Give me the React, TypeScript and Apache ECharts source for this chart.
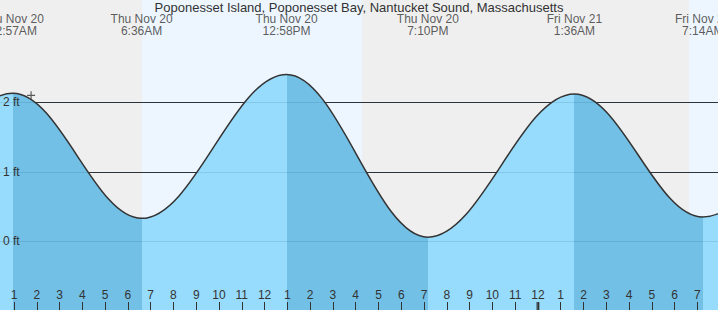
import React, { useEffect, useRef } from "react";
import * as echarts from "echarts";

// Tide extremes (hours since midnight, Thu Nov 20) and heights in feet
const tideHours = [-5.3, 0.95, 6.6, 12.967, 19.167, 25.6, 31.233, 37.6];
const tideFeet = [0.1, 2.13, 0.33, 2.4, 0.06, 2.12, 0.35, 2.35];

// Labelled extremes at the top
const extremeHours = [0.95, 6.6, 12.967, 19.167, 25.6, 31.233];
const extremeDays = ["Thu Nov 20", "Thu Nov 20", "Thu Nov 20", "Thu Nov 20", "Fri Nov 21", "Fri Nov 21"];
const extremeTimes = ["12:57AM", "6:36AM", "12:58PM", "7:10PM", "1:36AM", "7:14AM"];

// Hour ticks along the bottom (hours since midnight) and their labels
const tickHours = [1, 2, 3, 4, 5, 6, 7, 8, 9, 10, 11, 12, 13, 14, 15, 16, 17, 18, 19, 20, 21, 22, 23, 24, 25, 26, 27, 28, 29, 30, 31];
const tickLabels = ["1", "2", "3", "4", "5", "6", "7", "8", "9", "10", "11", "12", "1", "2", "3", "4", "5", "6", "7", "8", "9", "10", "11", "12", "1", "2", "3", "4", "5", "6", "7"];

// Daylight bands (hours)
const dayStarts = [6.62, 30.63];
const dayEnds = [16.28, 36];

const gridFeet = [0, 1, 2];
const nowPoint = [1.75, 2.1];
const midnightHour = 24;
const titleText = "Poponesset Island, Poponesset Bay, Nantucket Sound, Massachusetts";

const LIGHT = "#98dcfd";
const DARK = "#72c0e6";
const INK = "#333333";
const FONT = "Liberation Sans, Arial, sans-serif";

export default function App() {
  const ref = useRef<HTMLDivElement>(null);
  useEffect(() => {
    if (!ref.current) return;
    const chart = echarts.init(ref.current, undefined, { renderer: "svg" });

    const tideData = tideHours.map((h, i) => [h, tideFeet[i]]);
    const pieces: any[] = [];
    pieces.push({ lt: tideHours[0], color: LIGHT });
    for (let i = 0; i < tideHours.length - 1; i++) {
      const falling = tideFeet[i + 1] < tideFeet[i];
      pieces.push({ gte: tideHours[i], lt: tideHours[i + 1], color: falling ? DARK : LIGHT });
    }
    pieces.push({ gte: tideHours[tideHours.length - 1], color: LIGHT });

    const labelY = 3.112;
    const tickY = -0.931;

    chart.setOption({
      animation: false,
      backgroundColor: "#efefef",
      title: {
        text: titleText,
        left: "center",
        top: 1,
        padding: 0,
        textStyle: { fontSize: 13, fontWeight: "normal", color: INK, fontFamily: FONT },
      },
      grid: { left: 0, right: 0, top: 0, bottom: 0, containLabel: false },
      xAxis: {
        type: "value",
        min: 0.3854,
        max: 31.905,
        z: 10,
        axisLine: { show: false, onZero: false },
        splitLine: { show: false },
        axisTick: {
          show: true,
          inside: true,
          length: 8,
          customValues: tickHours,
          lineStyle: { color: INK, width: 1 },
        },
        axisLabel: {
          inside: true,
          margin: 9,
          customValues: tickHours,
          color: INK,
          fontSize: 12,
          fontFamily: FONT,
          formatter: (v: number) => {
            const i = tickHours.indexOf(Math.round(v));
            return i >= 0 ? tickLabels[i] : "";
          },
        },
      },
      yAxis: {
        type: "value",
        min: -0.9885,
        max: 3.472,
        z: 10,
        axisLine: { show: false, onZero: false },
        axisTick: { show: false },
        splitLine: { show: false },
        axisLabel: {
          inside: true,
          margin: 3,
          customValues: gridFeet,
          color: INK,
          fontSize: 12,
          fontFamily: FONT,
          formatter: (v: number) => `${Math.round(v)} ft`,
        },
      },
      visualMap: {
        show: false,
        type: "piecewise",
        dimension: 0,
        seriesIndex: 2,
        pieces,
      },
      series: [
        {
          type: "line",
          z: 1,
          data: [],
          silent: true,
          markArea: {
            silent: true,
            z: 1,
            itemStyle: { color: "#edf6fe" },
            data: dayStarts.map((s, i) => [{ xAxis: s }, { xAxis: dayEnds[i] }]),
          },
        },
        {
          type: "line",
          z: 2,
          data: [],
          silent: true,
          markLine: {
            silent: true,
            z: 2,
            symbol: "none",
            label: { show: false },
            lineStyle: { color: INK, width: 1, type: "solid" },
            data: gridFeet.map((f) => ({ yAxis: f })),
          },
        },
        {
          type: "line",
          z: 3,
          data: tideData,
          smooth: 0.363,
          smoothMonotone: "x",
          showSymbol: false,
          silent: true,
          lineStyle: { width: 0 },
          areaStyle: { opacity: 1, origin: "start" },
        },
        {
          type: "line",
          z: 4,
          data: tideData,
          smooth: 0.363,
          smoothMonotone: "x",
          showSymbol: false,
          silent: true,
          lineStyle: { color: INK, width: 1.5 },
          markLine: {
            silent: true,
            z: 3.5,
            symbol: "none",
            label: { show: false },
            lineStyle: { color: "rgba(0,60,100,0.13)", width: 1, type: "solid" },
            data: gridFeet.map((f) => ({ yAxis: f })),
          },
        },
        {
          type: "scatter",
          z: 5,
          silent: true,
          symbolSize: 0,
          data: extremeHours.map((h, i) => ({ value: [h, labelY], name: `${extremeDays[i]}\n${extremeTimes[i]}` })),
          label: {
            show: true,
            position: "inside",
            formatter: (p: any) => p.name,
            color: INK,
            fontSize: 12,
            lineHeight: 12,
            fontFamily: FONT,
            align: "center",
          },
        },
        {
          type: "scatter",
          z: 6,
          silent: true,
          symbol: "path://M3,0h1v3h3v1h-3v3h-1v-3h-3v-1h3z",
          symbolSize: 8,
          itemStyle: { color: INK },
          data: [nowPoint],
        },
        {
          type: "scatter",
          z: 11,
          silent: true,
          symbol: "rect",
          symbolSize: [3, 8],
          itemStyle: { color: INK },
          data: [[midnightHour, tickY]],
        },
      ],
    });
    return () => chart.dispose();
  }, []);
  return (
    <div
      ref={ref}
      style={{ position: "fixed", left: 0, top: 0, width: 718, height: 310 }}
    />
  );
}
